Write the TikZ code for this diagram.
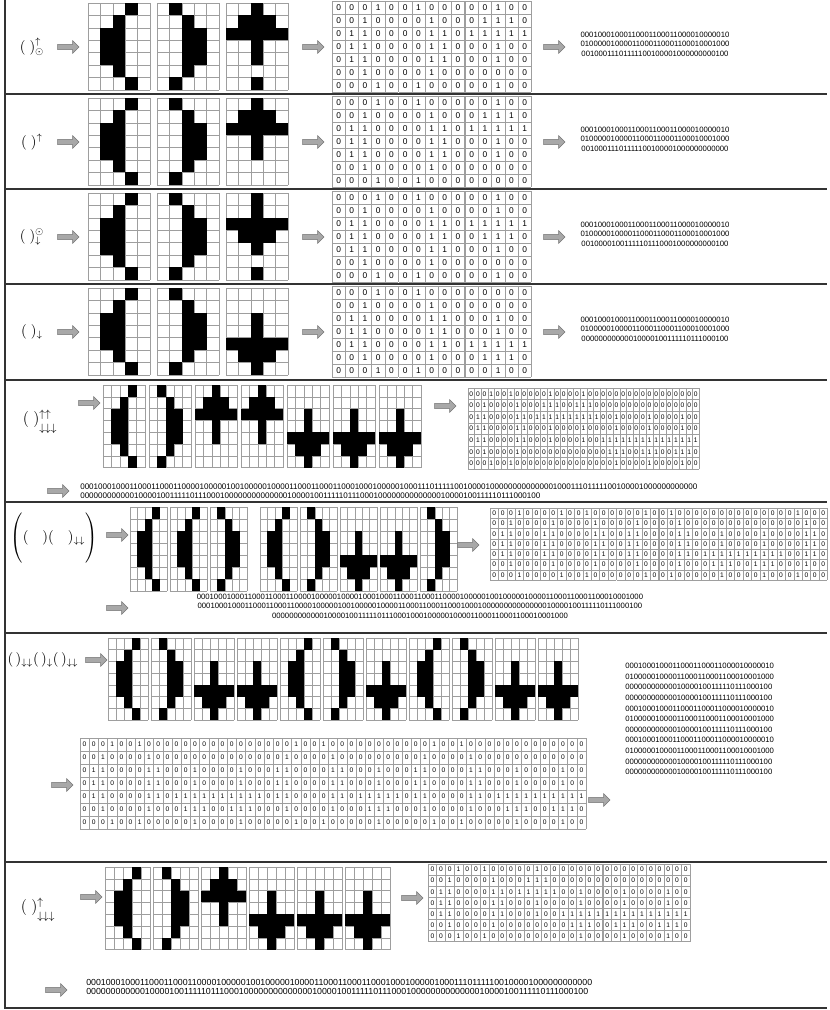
\documentclass[tikz,border=0pt]{standalone}
\usepackage{amsmath,amssymb}
\usepackage{fontspec}
\setmainfont{Liberation Sans}
\usetikzlibrary{shapes.arrows}

\definecolor{gridgray}{gray}{0.62}
\definecolor{arrfill}{gray}{0.66}
\definecolor{arrdraw}{gray}{0.45}

% 5x7 glyphs, one brace group per row
\def\gL{{0,0,0,1,0},{0,0,1,0,0},{0,1,1,0,0},{0,1,1,0,0},{0,1,1,0,0},{0,0,1,0,0},{0,0,0,1,0}}
\def\gR{{0,1,0,0,0},{0,0,1,0,0},{0,0,1,1,0},{0,0,1,1,0},{0,0,1,1,0},{0,0,1,0,0},{0,1,0,0,0}}
\def\gUd{{0,0,1,0,0},{0,1,1,1,0},{1,1,1,1,1},{0,0,1,0,0},{0,0,1,0,0},{0,0,0,0,0},{0,0,1,0,0}}
\def\gU{{0,0,1,0,0},{0,1,1,1,0},{1,1,1,1,1},{0,0,1,0,0},{0,0,1,0,0},{0,0,0,0,0},{0,0,0,0,0}}
\def\gDd{{0,0,1,0,0},{0,0,1,0,0},{1,1,1,1,1},{0,1,1,1,0},{0,0,1,0,0},{0,0,0,0,0},{0,0,1,0,0}}
\def\gD{{0,0,0,0,0},{0,0,0,0,0},{0,0,1,0,0},{0,0,1,0,0},{1,1,1,1,1},{0,1,1,1,0},{0,0,1,0,0}}

\def\sL{00010001000110001100011000010000010}
\def\sR{01000001000011000110001100010001000}
\def\sUd{00100011101111100100001000000000100}
\def\sU{00100011101111100100001000000000000}
\def\sDd{00100001001111101110001000000000100}
\def\sD{00000000000010000100111110111000100}

% #1,#2 top left, #3,#4 cell size, #5 glyph
\newcommand{\glyph}[5]{%
  \expandafter\let\expandafter\gcur\csname g#5\endcsname
  \foreach \k in {0,...,5} \draw[gridline] ({#1+\k*#3},{#2}) -- +(0,{7*#4});
  \foreach \k in {0,...,7} \draw[gridline] ({#1},{#2+\k*#4}) -- +({5*#3},0);
  \foreach \rw [count=\rr] in \gcur {%
    \foreach \bt [count=\cc] in \rw {%
      \ifnum\bt=1 \fill ({#1+(\cc-1)*#3},{#2+(\rr-1)*#4}) rectangle +(#3,#4);\fi
    }%
  }%
}
% same grid, written as digits; #6 digit style, #7 name
\newcommand{\bitmat}[7]{%
  \expandafter\let\expandafter\gcur\csname g#5\endcsname
  \foreach \k in {0,...,5} \draw[gridline] ({#1+\k*#3},{#2}) -- +(0,{7*#4});
  \foreach \k in {0,...,7} \draw[gridline] ({#1},{#2+\k*#4}) -- +({5*#3},0);
  \foreach \rw [count=\rr] in \gcur {%
    \foreach \bt [count=\cc] in \rw {%
      \node[#6] (#7-\rr-\cc) at ({#1+(\cc-.5)*#3},{#2+(\rr-.5)*#4}) {\bt};
    }%
  }%
}

\tikzset{
  gridline/.style={draw=gridgray, line width=0.45pt},
  fatarrow/.style={single arrow, draw=arrdraw, fill=arrfill, line width=0.4pt, inner sep=1.7pt, minimum height=16pt, single arrow head extend=2.8pt},
  lbl/.style={font=\fontsize{10.5}{12}\selectfont, inner sep=0pt},
  bits/.style={font=\fontsize{5.8}{7.1}\selectfont, align=center, inner sep=0pt},
  digit/.style={font=\fontsize{6.3}{7}\selectfont, inner sep=0pt},
  sdigit/.style={font=\fontsize{5}{6}\selectfont, inner sep=0pt},
  sepline/.style={line width=0.9pt, black!80}
}

\begin{document}
\begin{tikzpicture}[x=0.75pt, y=-0.75pt]
  \useasboundingbox (0,0) rectangle (829,1010);
  \draw[sepline] (5,0) -- (5,1008) -- (827,1008);
  \foreach \sy in {94,189,284,380,502,633,862} \draw[sepline] (5,\sy) -- (827,\sy);

  \foreach \oy/\gk/\lab [count=\n] in {0/Ud/{$(\;)^{\uparrow}_{\odot}$}, 95/U/{$(\;)^{\uparrow}$}, 190/Dd/{$(\;)^{\odot}_{\downarrow}$}, 285/D/{$(\;)_{\downarrow}$}} {
    \node[lbl] (lab\n) at (32,\oy+47) {\lab};
    \node[fatarrow] (ain\n) at (67,\oy+47) {};
    \foreach \g [count=\i] in {L,R,\gk} {
      \glyph{88+69*(\i-1)}{\oy+3}{12.4}{12.4}{\g}
      \bitmat{332+66.6*(\i-1)}{\oy+1}{13.2}{13}{\g}{digit}{m\n\i}
    }
    \node[fatarrow] (amid\n) at (312,\oy+47) {};
    \node[fatarrow] (aout\n) at (553,\oy+47) {};
    \node[bits] (str\n) at (655,\oy+44) {\sL\\\sR\\\csname s\gk\endcsname};
  }

  % row 5
  \node[lbl, font=\fontsize{11.5}{13}\selectfont] (lab5) at (40,422) {$(\;)^{\uparrow\uparrow}_{\raisebox{-3pt}{$\scriptstyle\downarrow\downarrow\downarrow$}}$};
  \node[fatarrow] (ain5) at (88,403) {};
  \foreach \g [count=\i] in {L,R,U,U,D,D,D} {
    \glyph{103+46*(\i-1)}{385}{8.4}{11.8}{\g}
    \bitmat{468+33*(\i-1)}{388}{6.6}{11.6}{\g}{sdigit}{m5\i}
  }
  \node[fatarrow] (amid5) at (444,406) {};
  \node[fatarrow] (aout5) at (57,491) {};
  \node[bits, anchor=west, align=left, font=\fontsize{6.05}{6.9}\selectfont] (str5) at (80,491) {\sL\sR\sU\sU\\\sD\sD\sD};

  % row 6
  \node[lbl] (lab6) at (54,538) {$\left(\rule[-16pt]{0pt}{32pt}(\quad)(\quad)_{\downarrow\downarrow}\right)$};
  \node[fatarrow] (ain6) at (116,535) {};
  \foreach \g/\gx [count=\i] in {L/130,L/170,R/210,L/260,R/300,D/340,D/380,R/420} {
    \glyph{\gx}{507}{7.4}{12}{\g}
    \bitmat{490+42.2*(\i-1)}{508}{8.4}{10.3}{\g}{sdigit}{m6\i}
  }
  \node[fatarrow] (amid6) at (467,545) {};
  \node[fatarrow] (aout6) at (116,608) {};
  \node[bits] (str6) at (420,606) {\sL\sL\sR\\\sL\sR\sD\\\sD\sR};

  % row 7
  \node[lbl] (lab7) at (43,660) {$(\,)_{\downarrow\downarrow}(\,)_{\downarrow}(\,)_{\downarrow\downarrow}$};
  \node[fatarrow] (ain7) at (95,660) {};
  \foreach \g [count=\i] in {L,R,D,D,L,R,D,L,R,D,D} {
    \glyph{108+43*(\i-1)}{638}{8}{11.7}{\g}
    \bitmat{80+46*(\i-1)}{738}{9.2}{13}{\g}{sdigit}{m7\i}
  }
  \node[fatarrow] (amid7) at (61,785) {};
  \node[fatarrow] (aout7) at (598,800) {};
  \node[bits, anchor=west, align=left, font=\fontsize{5.8}{7.95}\selectfont] (str7) at (625,719)
    {\sL\\\sR\\\sD\\\sD\\\sL\\\sR\\\sD\\\sL\\\sR\\\sD\\\sD};

  % row 8
  \node[lbl, font=\fontsize{11.5}{13}\selectfont] (lab8) at (38,910) {$(\;)^{\uparrow}_{\raisebox{-3pt}{$\scriptstyle\downarrow\downarrow\downarrow$}}$};
  \node[fatarrow] (ain8) at (90,897) {};
  \foreach \g [count=\i] in {L,R,U,D,D,D} {
    \glyph{105+48*(\i-1)}{867}{9}{11.8}{\g}
    \bitmat{428+43.7*(\i-1)}{864}{8.7}{11.1}{\g}{sdigit}{m8\i}
  }
  \node[fatarrow] (amid8) at (411,898) {};
  \node[fatarrow] (aout8) at (55,990) {};
  \node[bits, anchor=west, align=left, font=\fontsize{6.6}{7.1}\selectfont] (str8) at (86,987) {\sL\sR\sU\\\sD\sD\sD};
\end{tikzpicture}
\end{document}
